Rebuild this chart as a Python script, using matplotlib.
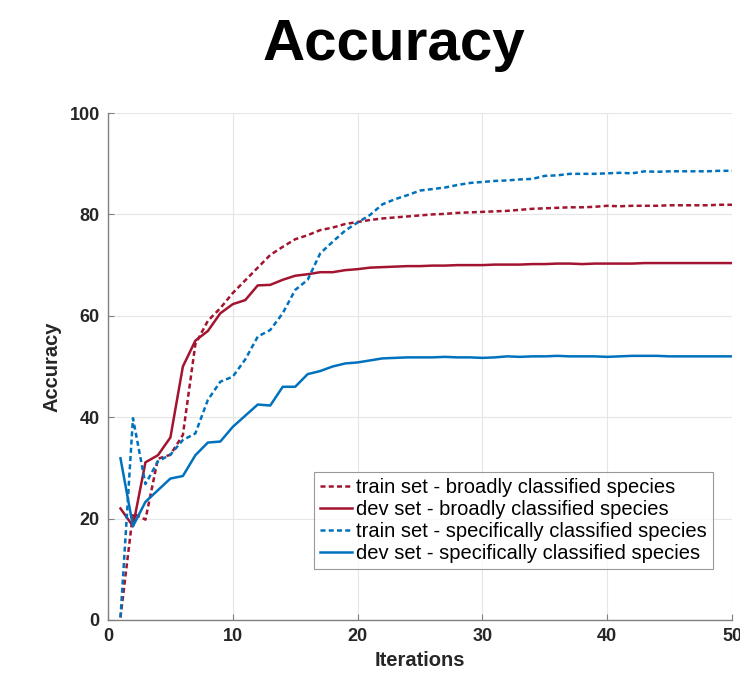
import matplotlib
matplotlib.use("Agg")
import matplotlib.pyplot as plt
import numpy as np

plt.rcParams['font.family'] = ['Liberation Sans', 'DejaVu Sans']

iterations = list(range(1, 51))

train_broad = [0.5, 21.0, 19.8, 31.8, 32.6, 36.5, 54.4, 59.0, 61.5, 64.5,
               67.0, 69.5, 72.0, 73.6, 75.1, 75.9, 76.9, 77.4, 78.1, 78.5,
               78.9, 79.2, 79.4, 79.6, 79.8, 80.0, 80.1, 80.3, 80.4, 80.5,
               80.6, 80.7, 80.9, 81.1, 81.2, 81.3, 81.4, 81.4, 81.5, 81.7,
               81.6, 81.7, 81.7, 81.7, 81.8, 81.8, 81.8, 81.8, 81.9, 81.9]

dev_broad = [22.0, 18.5, 31.1, 32.5, 36.0, 50.0, 55.1, 57.0, 60.5, 62.3,
             63.1, 66.0, 66.1, 67.1, 67.9, 68.2, 68.6, 68.6, 69.0, 69.2,
             69.5, 69.6, 69.7, 69.8, 69.8, 69.9, 69.9, 70.0, 70.0, 70.0,
             70.1, 70.1, 70.1, 70.2, 70.2, 70.3, 70.3, 70.2, 70.3, 70.3,
             70.3, 70.3, 70.4, 70.4, 70.4, 70.4, 70.4, 70.4, 70.4, 70.4]

train_spec = [0.5, 39.8, 26.8, 31.3, 32.6, 35.5, 36.8, 43.4, 47.0, 48.0,
              51.4, 55.9, 57.2, 60.5, 65.1, 67.1, 72.3, 74.6, 76.8, 78.4,
              79.9, 82.0, 83.0, 83.8, 84.7, 85.0, 85.3, 85.8, 86.2, 86.4,
              86.6, 86.7, 86.9, 87.0, 87.6, 87.7, 88.0, 88.0, 88.0, 88.1,
              88.2, 88.1, 88.5, 88.4, 88.5, 88.5, 88.5, 88.5, 88.6, 88.6]

dev_spec = [31.9, 18.5, 23.3, 25.6, 27.9, 28.4, 32.5, 35.0, 35.2, 38.1,
            40.3, 42.5, 42.3, 46.0, 46.0, 48.5, 49.1, 50.0, 50.6, 50.8,
            51.2, 51.6, 51.7, 51.8, 51.8, 51.8, 51.9, 51.8, 51.8, 51.7,
            51.8, 52.0, 51.9, 52.0, 52.0, 52.1, 52.0, 52.0, 52.0, 51.9,
            52.0, 52.1, 52.1, 52.1, 52.0, 52.0, 52.0, 52.0, 52.0, 52.0]

labels = ["train set - broadly classified species",
          "dev set - broadly classified species",
          "train set - specifically classified species",
          "dev set - specifically classified species"]

red = "#A2142F"
blue = "#0072BD"

fig = plt.figure(figsize=(7.40, 6.73), dpi=100)
ax = fig.add_axes([108/740, 53/673, (732-108)/740, (620-113)/673])

dash = (0, (2.0, 1.3))
ax.plot(iterations, train_broad, color=red, lw=1.8, ls=dash, label=labels[0])
ax.plot(iterations, dev_broad, color=red, lw=1.8, ls='-', label=labels[1])
ax.plot(iterations, train_spec, color=blue, lw=1.8, ls=dash, label=labels[2])
ax.plot(iterations, dev_spec, color=blue, lw=1.8, ls='-', label=labels[3])

ax.set_xlim(0, 50)
ax.set_ylim(0, 100)
ax.set_xticks([0, 10, 20, 30, 40, 50])
ax.set_yticks([0, 20, 40, 60, 80, 100])
ax.grid(True, color='#e6e6e6', lw=0.8)
ax.set_axisbelow(True)
for s in ['top', 'right']:
    ax.spines[s].set_visible(False)
for s in ['left', 'bottom']:
    ax.spines[s].set_color('#808080')
    ax.spines[s].set_linewidth(1.0)
ax.tick_params(direction='in', length=4, color='#808080', labelcolor='#262626',
               labelsize=13, pad=6)
for lab in ax.get_xticklabels() + ax.get_yticklabels():
    lab.set_fontweight('bold')

ax.set_xlabel("Iterations", fontsize=14.5, fontweight='bold', color='#262626', labelpad=4)
ax.set_ylabel("Accuracy", fontsize=14.5, fontweight='bold', color='#262626', labelpad=6)

leg = ax.legend(loc='lower right', bbox_to_anchor=(0.97, 0.10), fontsize=14.5,
                frameon=True, fancybox=False, edgecolor='#808080',
                handlelength=1.6, handletextpad=0.2, borderpad=0.3,
                labelspacing=0.15, borderaxespad=0)
leg.get_frame().set_linewidth(0.8)

fig.text(394/740, 1 - 45/673, "Accuracy", fontsize=42, fontweight='bold',
         ha='center', va='center', color='black')

fig.savefig("out.png", dpi=100)
